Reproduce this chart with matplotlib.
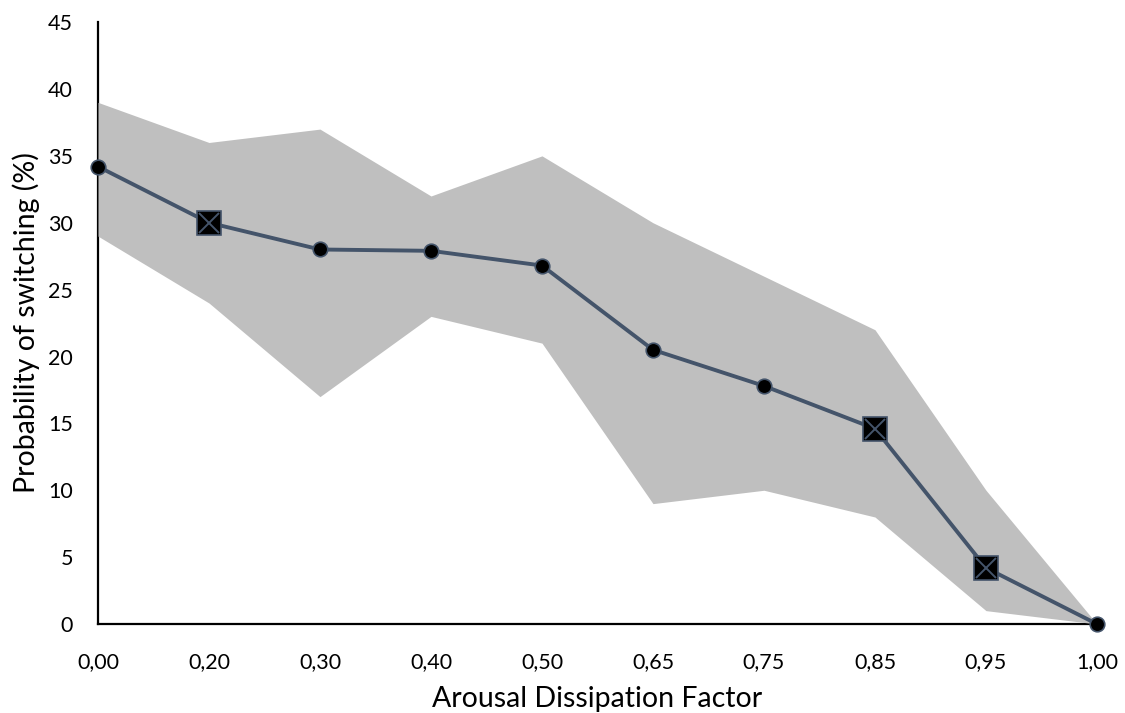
import numpy as np
import matplotlib.pyplot as plt

plt.rcParams['font.family'] = ['Lato', 'DejaVu Sans']

labels = ['0,00', '0,20', '0,30', '0,40', '0,50', '0,65', '0,75', '0,85', '0,95', '1,00']
mean = [34.2, 30.0, 28.0, 27.9, 26.8, 20.5, 17.8, 14.6, 4.2, 0.0]
upper = [39, 36, 37, 32, 35, 30, 26, 22, 10, 0]
lower = [29, 24, 17, 23, 21, 9, 10, 8, 1, 0]
# points drawn as boxed crosses instead of dots
boxed = [1, 7, 8]

line_col = '#44546A'
x = np.arange(len(labels))

fig = plt.figure(figsize=(11.25, 7.13), dpi=100)
ax = fig.add_axes([0.0871, 0.1248, 0.888, 0.8442])

ax.fill_between(x, lower, upper, color='#BFBFBF', linewidth=0, zorder=1)
ax.plot(x, mean, color=line_col, linewidth=2.8, zorder=2)

dots = [i for i in x if i not in boxed]
ax.plot(x[dots], np.array(mean)[dots], 'o', ms=10.5, mfc='black', mec=line_col, mew=1.2,
        zorder=3, clip_on=False)
ax.plot(x[boxed], np.array(mean)[boxed], 's', ms=17, mfc='black', mec=line_col, mew=1.2,
        zorder=3, clip_on=False)
ax.plot(x[boxed], np.array(mean)[boxed], 'x', ms=15, mec=line_col, mew=1.4, zorder=4)

ax.set_xlim(0, 9)
ax.set_ylim(0, 45)
ax.set_xticks(x)
ax.set_xticklabels(labels)
ax.set_yticks(range(0, 46, 5))
ax.tick_params(length=0, labelsize=15.5)
ax.tick_params(axis='x', pad=20)
ax.tick_params(axis='y', pad=18)
for s in ['top', 'right']:
    ax.spines[s].set_visible(False)
for s in ['left', 'bottom']:
    ax.spines[s].set_linewidth(1.6)
    ax.spines[s].set_zorder(0.5)

ax.set_xlabel('Arousal Dissipation Factor', fontsize=20.5, labelpad=10)
ax.set_ylabel('Probability of switching (%)', fontsize=20.5, labelpad=6)

fig.savefig('out.png', dpi=100)
